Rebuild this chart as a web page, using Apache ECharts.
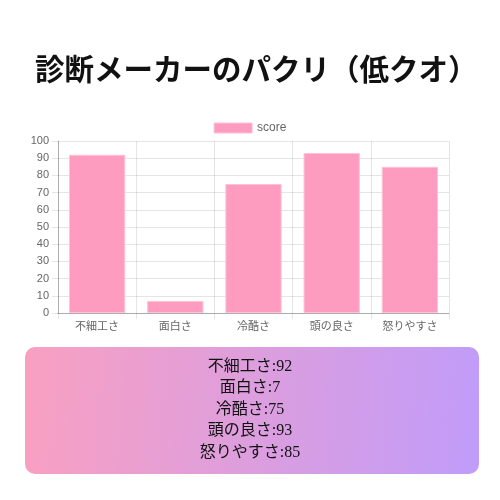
<!DOCTYPE html>
<html><head><meta charset="utf-8">
<script src="https://cdn.jsdelivr.net/npm/echarts@6/dist/echarts.min.js"></script>
<style>html,body{margin:0;padding:0;background:#fff}#c{width:500px;height:500px}</style>
</head><body><div id="c"></div>
<script>
const titleText = '診断メーカーのパクリ（低クオ）';
const seriesName = 'score';
const categories = ['不細工さ', '面白さ', '冷酷さ', '頭の良さ', '怒りやすさ'];
const scores = [92, 7, 75, 93, 85];

const chart = echarts.init(document.getElementById('c'), null, {renderer: 'canvas'});
const lineH = 21.5;
const boxTop = 347, boxH = 127;
const textStart = boxTop + boxH / 2 - (categories.length - 1) * lineH / 2;
const boxTexts = categories.map((c, i) => ({
  type: 'text', left: 'center', top: textStart + i * lineH - 9,
  style: {text: c + ':' + scores[i], fill: '#111', font: '16px "Liberation Serif", "Noto Sans CJK JP", serif'}
}));

chart.setOption({
  animation: false,
  title: {text: titleText, left: 30, top: 49,
    textStyle: {fontSize: 29.5, fontWeight: 'bold', color: '#111', fontFamily: '"Noto Sans CJK JP", sans-serif'}},
  legend: {top: 117, left: 'center', itemWidth: 38, itemHeight: 10, icon: 'rect', itemGap: 5,
    textStyle: {color: '#666', fontSize: 12, fontFamily: '"Liberation Sans", Arial, sans-serif'},
    itemStyle: {borderColor: '#ffc2d6', borderWidth: 1}},
  grid: {left: 58, right: 51, top: 141, bottom: 187},
  xAxis: {type: 'category', data: categories,
    axisLine: {lineStyle: {color: 'rgba(0,0,0,0.25)'}},
    axisTick: {show: true, length: 6, lineStyle: {color: 'rgba(0,0,0,0.1)'}},
    splitLine: {show: true, lineStyle: {color: 'rgba(0,0,0,0.1)'}},
    axisLabel: {color: '#666', fontSize: 11, margin: 8, fontFamily: '"Liberation Sans", "Noto Sans CJK JP", sans-serif'}},
  yAxis: {type: 'value', min: 0, max: 100, interval: 10,
    axisLine: {show: true, lineStyle: {color: 'rgba(0,0,0,0.25)'}},
    axisTick: {show: true, length: 6, lineStyle: {color: 'rgba(0,0,0,0.1)'}},
    splitLine: {lineStyle: {color: 'rgba(0,0,0,0.1)'}},
    axisLabel: {color: '#666', fontSize: 11, margin: 9, fontFamily: '"Liberation Sans", Arial, sans-serif'}},
  series: [{name: seriesName, type: 'bar', data: scores, barWidth: '72%',
    itemStyle: {color: '#fe9cc0', borderColor: '#ffc2d6', borderWidth: 1}}],
  graphic: [
    {type: 'rect', shape: {x: 25, y: boxTop, width: 454, height: boxH, r: 10},
      style: {fill: new echarts.graphic.LinearGradient(0, 0, 1, 0.3, [
        {offset: 0, color: '#f9a0c1'}, {offset: 1, color: '#c19cf9'}])}, z: 0},
    ...boxTexts
  ]
});
</script></body></html>
